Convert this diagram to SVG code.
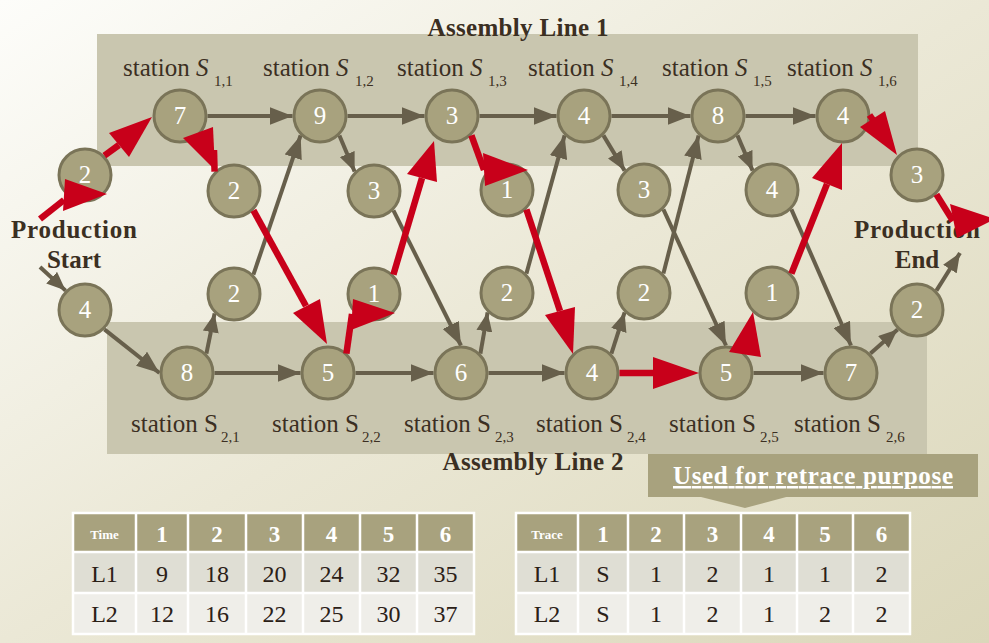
<svg xmlns="http://www.w3.org/2000/svg" width="989" height="643" viewBox="0 0 989 643">
<defs>
<linearGradient id="bg" x1="0" y1="0" x2="1" y2="1">
<stop offset="0" stop-color="#fdfdfa"/>
<stop offset="0.5" stop-color="#ebe8d6"/>
<stop offset="1" stop-color="#dbd7ba"/>
</linearGradient>
<marker id="ah" markerUnits="userSpaceOnUse" markerWidth="24" markerHeight="18" refX="23" refY="9" orient="auto">
<path d="M0,0 L23,9 L0,18 z" fill="#675f4b"/>
</marker>
<marker id="ahs" markerUnits="userSpaceOnUse" markerWidth="20" markerHeight="16" refX="19" refY="8" orient="auto">
<path d="M0,0 L19,8 L0,16 z" fill="#675f4b"/>
</marker>
</defs>
<style>
.band{fill:#c9c6af}
.node circle{fill:#a8a27e;stroke:#7a7458;stroke-width:3}
.node text{font-family:"Liberation Serif",serif;font-size:25px;fill:#fff;text-anchor:middle}
.c{stroke:#675f4b;stroke-width:4;fill:none;marker-end:url(#ah)}
.cs{stroke:#675f4b;stroke-width:4;fill:none;marker-end:url(#ahs)}
.r{stroke:#c8001a;stroke-width:6.5;fill:none}
.rh{fill:#c8001a}
.lab{font-family:"Liberation Serif",serif;font-size:25px;fill:#3b2f22}
.sub{font-family:"Liberation Serif",serif;font-size:15px;fill:#3b2f22}
.ttl{font-family:"Liberation Serif",serif;font-size:25px;font-weight:bold;fill:#3b2f22}
.th{font-family:"Liberation Serif",serif;font-size:23px;font-weight:bold;fill:#fff;text-anchor:middle}
.ths{font-family:"Liberation Serif",serif;font-size:13px;font-weight:bold;fill:#fff;text-anchor:middle}
.td{font-family:"Liberation Serif",serif;font-size:24px;fill:#2b2016;text-anchor:middle}
.grid{stroke:#fff;stroke-width:2.5;fill:none}
</style>
<rect width="989" height="643" fill="url(#bg)"/>

<g id="bands">
<rect class="band" x="97" y="34" width="821" height="132"/>
<rect class="band" x="107" y="322" width="820" height="132"/>
</g>

<g id="titles">
<text class="ttl" x="518" y="36" text-anchor="middle" textLength="181" lengthAdjust="spacing">Assembly Line 1</text>
<text class="ttl" x="533" y="470" text-anchor="middle" textLength="181" lengthAdjust="spacing">Assembly Line 2</text>
<text class="ttl" x="74" y="238" text-anchor="middle" textLength="126" lengthAdjust="spacing">Production</text>
<text class="ttl" x="74" y="268" text-anchor="middle">Start</text>
<text class="ttl" x="917" y="238" text-anchor="middle" textLength="126" lengthAdjust="spacing">Production</text>
<text class="ttl" x="917" y="268" text-anchor="middle">End</text>
</g>

<g id="station-labels">
<text class="lab" x="123" y="76">station <tspan font-style="italic">S</tspan></text><text class="sub" x="214" y="86">1,1</text>
<text class="lab" x="263" y="76">station <tspan font-style="italic">S</tspan></text><text class="sub" x="355" y="86">1,2</text>
<text class="lab" x="397" y="76">station <tspan font-style="italic">S</tspan></text><text class="sub" x="488" y="86">1,3</text>
<text class="lab" x="528" y="76">station <tspan font-style="italic">S</tspan></text><text class="sub" x="619" y="86">1,4</text>
<text class="lab" x="662" y="76">station <tspan font-style="italic">S</tspan></text><text class="sub" x="753" y="86">1,5</text>
<text class="lab" x="787" y="76">station <tspan font-style="italic">S</tspan></text><text class="sub" x="878" y="86">1,6</text>
<text class="lab" x="131" y="432">station S</text><text class="sub" x="221" y="442">2,1</text>
<text class="lab" x="272" y="432">station S</text><text class="sub" x="362" y="442">2,2</text>
<text class="lab" x="404" y="432">station S</text><text class="sub" x="495" y="442">2,3</text>
<text class="lab" x="536" y="432">station S</text><text class="sub" x="627" y="442">2,4</text>
<text class="lab" x="669" y="432">station S</text><text class="sub" x="760" y="442">2,5</text>
<text class="lab" x="794" y="432">station S</text><text class="sub" x="886" y="442">2,6</text>
</g>

<g id="connectors">
<path class="cs" d="M40,267 L65.6,290.6"/>
<path class="c" d="M104.4,329.4 L159.5,373"/>
<path class="cs" d="M206.4,353.6 L214.6,313.4"/>
<path class="c" d="M253.4,274.6 L300.6,135.4"/>
<path class="cs" d="M339.4,135.4 L354.6,171.6"/>
<path class="c" d="M393.4,210.4 L461,345.5"/>
<path class="cs" d="M480.4,353.6 L487.6,312.4"/>
<path class="c" d="M526.4,273.6 L564.6,135.4"/>
<path class="cs" d="M603.4,135.4 L624.6,170.6"/>
<path class="c" d="M663.4,209.4 L726,345.5"/>
<path class="cs" d="M611.4,353.6 L624.6,312.4"/>
<path class="c" d="M663.4,273.6 L698.6,135.4"/>
<path class="cs" d="M737.4,135.4 L752.6,170.6"/>
<path class="c" d="M791.4,209.4 L851,345.5"/>
<path class="cs" d="M870.4,353.6 L897.6,329.4"/>
<path class="cs" d="M936.4,290.6 L960,253"/>
<path class="c" d="M207.5,116 L292.5,116"/>
<path class="c" d="M347.5,116 L424.5,116"/>
<path class="c" d="M479.5,116 L556.5,116"/>
<path class="c" d="M611.5,116 L690.5,116"/>
<path class="c" d="M745.5,116 L815.5,116"/>
<path class="c" d="M214.5,373 L300.5,373"/>
<path class="c" d="M355.5,373 L433.5,373"/>
<path class="c" d="M488.5,373 L564.5,373"/>
<path class="c" d="M753.5,373 L823.5,373"/>
</g>

<g id="n11" class="node"><circle cx="180" cy="116" r="26"/><text x="180" y="124">7</text></g>
<g id="n12" class="node"><circle cx="320" cy="116" r="26"/><text x="320" y="124">9</text></g>
<g id="n13" class="node"><circle cx="452" cy="116" r="26"/><text x="452" y="124">3</text></g>
<g id="n14" class="node"><circle cx="584" cy="116" r="26"/><text x="584" y="124">4</text></g>
<g id="n15" class="node"><circle cx="718" cy="116" r="26"/><text x="718" y="124">8</text></g>
<g id="n16" class="node"><circle cx="843" cy="116" r="26"/><text x="843" y="124">4</text></g>
<g id="e1" class="node"><circle cx="85" cy="175" r="26"/><text x="85" y="183">2</text></g>
<g id="t12" class="node"><circle cx="234" cy="191" r="26"/><text x="234" y="199">2</text></g>
<g id="t13" class="node"><circle cx="374" cy="191" r="26"/><text x="374" y="199">3</text></g>
<g id="t14" class="node"><circle cx="507" cy="190" r="26"/><text x="507" y="198">1</text></g>
<g id="t15" class="node"><circle cx="644" cy="190" r="26"/><text x="644" y="198">3</text></g>
<g id="t16" class="node"><circle cx="772" cy="190" r="26"/><text x="772" y="198">4</text></g>
<g id="x1" class="node"><circle cx="917" cy="175" r="26"/><text x="917" y="183">3</text></g>
<g id="e2" class="node"><circle cx="85" cy="310" r="26"/><text x="85" y="318">4</text></g>
<g id="t22" class="node"><circle cx="234" cy="294" r="26"/><text x="234" y="302">2</text></g>
<g id="t23" class="node"><circle cx="374" cy="294" r="26"/><text x="374" y="302">1</text></g>
<g id="t24" class="node"><circle cx="507" cy="293" r="26"/><text x="507" y="301">2</text></g>
<g id="t25" class="node"><circle cx="644" cy="293" r="26"/><text x="644" y="301">2</text></g>
<g id="t26" class="node"><circle cx="772" cy="293" r="26"/><text x="772" y="301">1</text></g>
<g id="x2" class="node"><circle cx="917" cy="310" r="26"/><text x="917" y="318">2</text></g>
<g id="n21" class="node"><circle cx="187" cy="373" r="26"/><text x="187" y="381">8</text></g>
<g id="n22" class="node"><circle cx="328" cy="373" r="26"/><text x="328" y="381">5</text></g>
<g id="n23" class="node"><circle cx="461" cy="373" r="26"/><text x="461" y="381">6</text></g>
<g id="n24" class="node"><circle cx="592" cy="373" r="26"/><text x="592" y="381">4</text></g>
<g id="n25" class="node"><circle cx="726" cy="373" r="26"/><text x="726" y="381">5</text></g>
<g id="n26" class="node"><circle cx="851" cy="373" r="26"/><text x="851" y="381">7</text></g>

<g id="path-connectors">
<path class="r" d="M40,219 L64,200"/><polygon class="rh" points="63,211 65,179 107,194"/>
<path class="r" d="M104.4,155.6 L119,145"/><polygon class="rh" points="109,133 152,117 129,157"/>
<path class="r" d="M214.6,171.6 L214,150"/><polygon class="rh" points="183,138 213,127 215,170"/>
<path class="r" d="M253.4,210.4 L306,306"/><polygon class="rh" points="293,313 320,299 327,344"/>
<path class="r" d="M346.4,353.6 L352,314"/><polygon class="rh" points="353,299 395,313 351,330"/>
<path class="r" d="M393.4,274.6 L422,178"/><polygon class="rh" points="407,174 434,141 437,182"/>
<path class="r" d="M471.4,135.4 L484,170"/><polygon class="rh" points="483,153 528,170 485,186"/>
<path class="r" d="M526.4,209.4 L560,311"/><polygon class="rh" points="545,315 575,307 573,354"/>
<path class="r" d="M619.5,373 L654,373"/><polygon class="rh" points="653,357 699,373 653,389"/>
<path class="r" d="M745.4,353.6 L748,340"/><polygon class="rh" points="729,352 753,312 761,357"/>
<path class="r" d="M791.4,273.6 L827,184"/><polygon class="rh" points="812,178 842,143 842,190"/>
<path class="r" d="M869.5,115 L873,120"/><polygon class="rh" points="860,127 885,111 897,155"/>
<path class="r" d="M936.4,194.4 L953,221"/><polygon class="rh" points="950,204 995,219 957,238"/>
</g>

<g id="callout">
<rect x="648" y="454" width="330" height="43" fill="#a8a27e"/>
<polygon points="697,496 790,496 745,508" fill="#a8a27e"/>
<text x="813" y="484" font-family="Liberation Serif, serif" font-size="25" font-weight="bold" fill="#fff" text-anchor="middle" text-decoration="underline" textLength="280" lengthAdjust="spacing">Used for retrace purpose</text>
</g>

<g id="time-table">
<rect x="73" y="513" width="401" height="39" fill="#a8a27e"/>
<rect x="73" y="552" width="401" height="41" fill="#dfded4"/>
<rect x="73" y="593" width="401" height="41" fill="#efeee9"/>
<path class="grid" d="M136,513V634 M188,513V634 M246,513V634 M303,513V634 M360,513V634 M417,513V634 M73,552H474 M73,593H474"/>
<rect class="grid" x="73" y="513" width="401" height="121"/>
<text class="ths" x="104.5" y="539">Time</text>
<text class="th" x="162" y="542">1</text><text class="th" x="217" y="542">2</text><text class="th" x="274.5" y="542">3</text><text class="th" x="331.5" y="542">4</text><text class="th" x="388.5" y="542">5</text><text class="th" x="445.5" y="542">6</text>
<text class="td" x="104.5" y="582">L1</text><text class="td" x="162" y="582">9</text><text class="td" x="217" y="582">18</text><text class="td" x="274.5" y="582">20</text><text class="td" x="331.5" y="582">24</text><text class="td" x="388.5" y="582">32</text><text class="td" x="445.5" y="582">35</text>
<text class="td" x="104.5" y="622">L2</text><text class="td" x="162" y="622">12</text><text class="td" x="217" y="622">16</text><text class="td" x="274.5" y="622">22</text><text class="td" x="331.5" y="622">25</text><text class="td" x="388.5" y="622">30</text><text class="td" x="445.5" y="622">37</text>
</g>

<g id="trace-table">
<rect x="516" y="513" width="394" height="39" fill="#a8a27e"/>
<rect x="516" y="552" width="394" height="41" fill="#dfded4"/>
<rect x="516" y="593" width="394" height="41" fill="#efeee9"/>
<path class="grid" d="M578,513V634 M628,513V634 M684,513V634 M741,513V634 M797,513V634 M853,513V634 M516,552H910 M516,593H910"/>
<rect class="grid" x="516" y="513" width="394" height="121"/>
<text class="ths" x="547" y="539">Trace</text>
<text class="th" x="603" y="542">1</text><text class="th" x="656" y="542">2</text><text class="th" x="712.5" y="542">3</text><text class="th" x="769" y="542">4</text><text class="th" x="825" y="542">5</text><text class="th" x="881.5" y="542">6</text>
<text class="td" x="547" y="582">L1</text><text class="td" x="603" y="582">S</text><text class="td" x="656" y="582">1</text><text class="td" x="712.5" y="582">2</text><text class="td" x="769" y="582">1</text><text class="td" x="825" y="582">1</text><text class="td" x="881.5" y="582">2</text>
<text class="td" x="547" y="622">L2</text><text class="td" x="603" y="622">S</text><text class="td" x="656" y="622">1</text><text class="td" x="712.5" y="622">2</text><text class="td" x="769" y="622">1</text><text class="td" x="825" y="622">2</text><text class="td" x="881.5" y="622">2</text>
</g>
</svg>
